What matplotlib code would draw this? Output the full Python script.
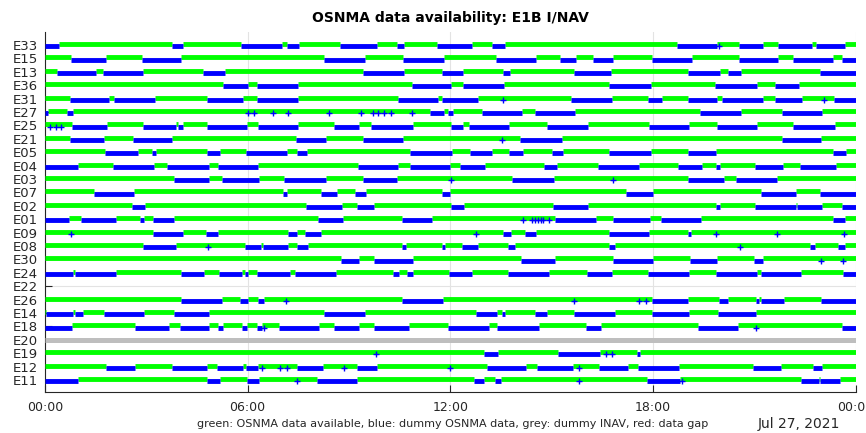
import matplotlib
matplotlib.use("Agg")
import matplotlib.pyplot as plt

# satellites, top to bottom
sats = ["E33", "E15", "E13", "E36", "E31", "E27", "E25", "E21", "E05", "E04",
        "E03", "E07", "E02", "E01", "E09", "E08", "E30", "E24", "E22", "E26",
        "E14", "E18", "E20", "E19", "E12", "E11"]

# kind of data per satellite: osnma (green/blue), none, inav (grey)
kind = ["osnma"] * 18 + ["none"] + ["osnma"] * 3 + ["inav"] + ["osnma"] * 3

# dummy OSNMA data periods (hours of day); green fills the rest
e33_blue = [(0.0, 0.42), (3.77, 4.08), (5.79, 7.01), (7.17, 7.53), (8.73, 9.82), (10.41, 10.63),
            (11.6, 12.63), (13.22, 13.62), (18.7, 19.91), (20.54, 21.26), (21.71, 22.7), (22.84, 23.68)]
e15_blue = [(0.76, 1.81), (2.86, 4.02), (8.26, 9.47), (10.61, 11.81), (13.35, 14.54), (15.25, 15.72),
            (16.23, 16.81), (17.96, 19.16), (20.54, 21.71), (22.15, 23.34), (23.61, 24.0)]
e13_blue = [(0.36, 1.51), (1.71, 2.91), (4.69, 5.33), (9.41, 10.63), (11.74, 12.38), (13.57, 13.77),
            (15.66, 16.76), (19.03, 19.98), (20.21, 20.6), (22.95, 24.0)]
e36_blue = [(5.26, 6.02), (6.27, 7.5), (10.86, 12.02), (12.37, 13.59), (16.71, 17.93), (19.83, 21.07),
            (21.61, 22.33)]
e31_blue = [(0.74, 1.9), (2.05, 3.27), (4.8, 5.85), (6.28, 7.48), (10.46, 11.64), (11.76, 12.81),
            (15.56, 16.78), (17.86, 18.26), (19.03, 19.91), (20.05, 21.26), (21.61, 22.42), (23.36, 24.0)]
e27_blue = [(0.0, 0.1), (0.64, 0.82), (11.4, 11.81), (11.94, 12.09), (12.93, 14.11), (14.51, 15.69),
            (19.39, 20.6), (21.83, 23.01)]
e25_blue = [(0.79, 1.83), (2.91, 3.88), (3.95, 4.08), (4.8, 5.97), (6.31, 7.5), (8.56, 9.3), (9.65, 10.9),
            (12.02, 12.37), (12.56, 13.74), (14.87, 16.08), (17.89, 19.07), (19.91, 21.07), (22.15, 23.39)]
e21_blue = [(0.74, 1.76), (2.61, 3.75), (7.43, 8.31), (9.41, 10.61), (14.06, 15.3), (21.81, 22.99)]
e05_blue = [(1.78, 2.76), (3.16, 3.28), (4.79, 5.18), (5.95, 7.16), (7.45, 7.75), (10.8, 12.04),
            (12.58, 13.22), (13.75, 14.14), (15.0, 15.33), (16.71, 17.93), (19.04, 19.88), (23.32, 23.73)]
e04_blue = [(0.0, 0.97), (2.02, 3.23), (3.6, 4.85), (5.13, 6.31), (9.26, 10.46), (10.8, 11.99),
            (12.29, 13.03), (14.77, 15.15), (16.36, 17.58), (18.75, 19.44), (19.88, 19.98), (21.02, 21.86),
            (22.35, 23.42)]
e03_blue = [(3.82, 4.85), (5.23, 6.34), (7.08, 8.31), (9.42, 10.41), (13.83, 15.07), (19.04, 20.1),
            (20.45, 21.66)]
e07_blue = [(1.45, 2.63), (7.05, 7.16), (8.17, 8.64), (9.18, 9.5), (11.74, 11.99), (17.2, 18.01),
            (21.19, 22.23), (22.95, 24.0)]
e02_blue = [(2.57, 2.96), (7.73, 8.78), (9.23, 9.75), (12.01, 12.41), (15.05, 16.08), (19.88, 19.98),
            (21.02, 22.23), (22.25, 23.01), (23.61, 24.0)]
e01_blue = [(0.0, 0.72), (1.06, 2.1), (2.81, 2.93), (3.19, 3.82), (8.09, 8.81), (10.56, 11.47),
            (15.1, 16.3), (16.82, 17.91), (18.24, 19.41), (23.32, 23.68)]
e09_blue = [(3.21, 4.08), (4.77, 5.13), (7.2, 7.47), (7.7, 8.16), (13.57, 13.79), (14.21, 14.54),
            (16.71, 17.89), (19.03, 19.12)]
e08_blue = [(2.91, 3.88), (5.92, 6.39), (6.46, 7.18), (7.45, 7.79), (10.56, 10.69), (11.74, 11.84),
            (12.34, 12.83), (13.72, 13.91), (16.71, 16.87), (22.65, 22.8), (23.48, 23.68)]
e30_blue = [(8.76, 9.29), (9.75, 10.89), (14.08, 15.1), (16.81, 17.99), (19.11, 19.91), (21.0, 21.26)]
e24_blue = [(0.0, 0.82), (0.89, 2.1), (4.03, 4.71), (5.16, 5.82), (5.92, 6.02), (6.28, 7.25), (7.4, 8.61),
            (10.31, 10.49), (10.71, 10.89), (11.97, 12.63), (13.72, 14.93), (16.04, 16.78), (17.86, 19.07),
            (19.86, 21.07), (21.19, 22.37), (23.63, 24.0)]
e22_blue = []
e26_blue = [(4.03, 5.23), (5.77, 6.02), (6.31, 6.48), (10.56, 11.77), (17.96, 19.04), (19.95, 20.23),
            (21.04, 21.14), (21.19, 21.87), (22.99, 24.0)]
e14_blue = [(0.03, 0.82), (0.89, 1.12), (1.75, 2.93), (3.82, 4.85), (8.26, 9.47), (12.76, 13.39),
            (13.52, 13.62), (14.51, 14.85), (15.66, 16.88), (17.96, 19.07), (19.93, 21.04)]
e18_blue = [(0.0, 0.79), (2.66, 3.67), (4.0, 4.85), (5.13, 5.28), (5.82, 5.97), (6.28, 6.41), (6.94, 8.12),
            (8.56, 9.3), (9.75, 10.78), (11.94, 13.15), (13.39, 14.63), (16.02, 16.45), (19.34, 20.51),
            (23.61, 24.0)]
e20_blue = []
e19_blue = [(12.99, 13.4), (15.2, 16.43), (17.52, 17.61)]
e12_blue = [(1.81, 2.66), (3.75, 4.8), (5.1, 5.87), (5.95, 6.3), (7.47, 8.24), (9.23, 9.82), (13.08, 14.24),
            (14.56, 15.62), (16.4, 17.27), (17.55, 18.78), (20.97, 21.79), (22.73, 23.01)]
e11_blue = [(0.0, 0.99), (4.79, 5.18), (5.97, 6.34), (8.06, 9.25), (12.71, 13.0), (13.32, 13.49),
            (17.83, 18.8), (22.37, 22.91), (22.96, 23.54)]

# single dummy epochs (hours)
e33_spk = [19.95]
e31_spk = [13.55, 23.06]
e27_spk = [6.02, 6.19, 6.76, 7.2, 8.41, 9.35, 9.7, 9.87, 10.04, 10.23, 10.86]
e25_spk = [0.15, 0.33, 0.47]
e21_spk = [13.54]
e03_spk = [12.02, 16.82]
e01_spk = [14.16, 14.41, 14.51, 14.6, 14.68, 14.75, 14.93]
e09_spk = [0.76, 12.76, 19.88, 21.66, 23.66]
e08_spk = [4.82, 20.57]
e30_spk = [22.97, 23.63]
e26_spk = [7.12, 15.66, 17.58, 17.79]
e18_spk = [6.48, 21.05]
e19_spk = [9.8, 16.6, 16.78]
e12_spk = [6.42, 6.96, 7.16, 8.86, 11.99, 15.82]
e11_spk = [7.46, 15.82, 18.85]

blue = [e33_blue, e15_blue, e13_blue, e36_blue, e31_blue, e27_blue, e25_blue, e21_blue, e05_blue,
        e04_blue, e03_blue, e07_blue, e02_blue, e01_blue, e09_blue, e08_blue, e30_blue, e24_blue,
        e22_blue, e26_blue, e14_blue, e18_blue, e20_blue, e19_blue, e12_blue, e11_blue]
spikes = [e33_spk, [], [], [], e31_spk, e27_spk, e25_spk, e21_spk, [], [], e03_spk, [], [],
          e01_spk, e09_spk, e08_spk, e30_spk, [], [], e26_spk, [], e18_spk, [], e19_spk, e12_spk, e11_spk]

xticks = [0, 6, 12, 18, 24]
xlabels = ["00:00", "06:00", "12:00", "18:00", "00:00"]

GREEN = "#00ff00"
BLUE = "#0000ff"
GREY = "#bebebe"
AXC = "#262626"


def complement(ivs, t0=0.0, t1=24.0):
    out = []
    t = t0
    for a, b in sorted(ivs):
        if a > t:
            out.append((t, a))
        t = max(t, b)
    if t < t1:
        out.append((t, t1))
    return out


fig = plt.figure(figsize=(8.66, 4.33), dpi=100)
ax = fig.add_axes([0.052, 0.0954, 0.936, 0.8306])

n = len(sats)
off = 0.08
for i, name in enumerate(sats):
    y = n - i
    if kind[i] == "inav":
        ax.hlines(y, 0, 24, colors=GREY, linewidth=3.6, capstyle="butt", zorder=3)
        continue
    if kind[i] == "none":
        continue
    g = complement(blue[i])
    if g:
        ax.hlines([y + off] * len(g), [a for a, b in g], [b for a, b in g],
                  colors=GREEN, linewidth=3.5, capstyle="butt", zorder=3)
    if blue[i]:
        ax.hlines([y - off] * len(blue[i]), [a for a, b in blue[i]], [b for a, b in blue[i]],
                  colors=BLUE, linewidth=3.5, capstyle="butt", zorder=4)
    if spikes[i]:
        ax.plot(spikes[i], [y - off] * len(spikes[i]), "+", color=BLUE, ms=4.5, mew=1.0, zorder=5)

ax.set_xlim(0, 24)
ax.set_ylim(0.13, 26.97)
ax.set_yticks(range(n, 0, -1))
ax.set_yticklabels(sats)
ax.set_xticks(xticks)
ax.set_xticklabels(xlabels)

ax.grid(True, color="#e3e3e3", linewidth=0.8, zorder=0)
ax.set_axisbelow(True)
for s in ["top", "right"]:
    ax.spines[s].set_visible(False)
for s in ["left", "bottom"]:
    ax.spines[s].set_color(AXC)
    ax.spines[s].set_linewidth(0.8)

ax.tick_params(axis="y", direction="in", length=5, width=0.8, colors=AXC, labelsize=9.5, pad=5)
ax.tick_params(axis="x", direction="in", length=5, width=0.8, colors=AXC, labelsize=9, pad=7)

ax.set_title("OSNMA data availability: E1B I/NAV", fontsize=10, fontweight="bold", pad=7)

fig.text(453 / 866, 1 - 424 / 433,
         "green: OSNMA data available, blue: dummy OSNMA data, grey: dummy INAV, red: data gap",
         ha="center", va="center", fontsize=8, color=AXC)
fig.text(799 / 866, 1 - 424 / 433, "Jul 27, 2021", ha="center", va="center", fontsize=10, color=AXC)

fig.savefig("out.png", dpi=100)
